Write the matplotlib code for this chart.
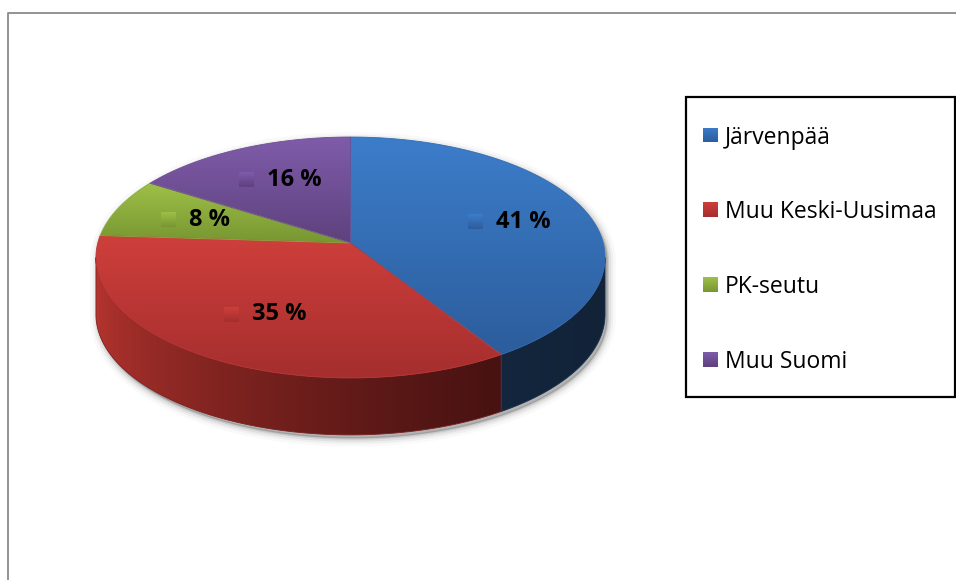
import numpy as np
import matplotlib
matplotlib.use("Agg")
import matplotlib.pyplot as plt
from matplotlib.patches import Polygon, Rectangle
from matplotlib.colors import to_rgb

# data
labels = ["Järvenpää", "Muu Keski-Uusimaa", "PK-seutu", "Muu Suomi"]
shares = [41, 35, 8, 16]

# colours per slice (top face gradient, side gradient)
top_light = ["#3c7dca", "#ce3f3b", "#9ec047", "#7f5caa"]
top_dark = ["#2c5d9c", "#a52e2e", "#779632", "#5e417e"]
side_light = ["#1d3d66", "#b8352f", "#6f8a2c", "#4c3468"]
side_dark = ["#122338", "#360d0d", "#3f4f18", "#2a1c3b"]

W, H = 956, 580
CX, CY = 350.5, 243.0      # pie apex in pixels
SX, SY = 252.7, 118.7      # radii
PERSP = 0.12               # perspective strength
DEPTH = 57                 # thickness of the pie


def project(theta, r=1.0):
    """theta clockwise from the far point of the pie."""
    u = r * np.sin(theta)
    v = r * np.cos(theta)
    w = 1 + PERSP * v
    return np.column_stack([CX + SX * u / w, CY - SY * v / w])


def gradient_fill(ax, verts, c0, c1, horizontal=False, extent=None,
                  zorder=2, gamma=1.0, edge=True):
    c0, c1 = np.array(to_rgb(c0)), np.array(to_rgb(c1))
    poly = Polygon(verts, closed=True, fc="none",
                   ec=tuple((c0 + c1) / 2) if edge else "none", lw=0.6,
                   zorder=zorder + 0.1)
    ax.add_patch(poly)
    if extent is None:
        x0, y0 = verts.min(axis=0)
        x1, y1 = verts.max(axis=0)
    else:
        x0, y0, x1, y1 = extent
    t = np.linspace(0, 1, 256) ** gamma
    cols = (1 - t)[:, None] * c0 + t[:, None] * c1
    img = cols[None, :, :] if horizontal else cols[:, None, :]
    im = ax.imshow(img, extent=(x0, x1, y1, y0), origin="upper",
                   aspect="auto", interpolation="bilinear", zorder=zorder)
    im.set_clip_path(poly)
    return poly


fig = plt.figure(figsize=(W / 100, H / 100), dpi=100)
ax = fig.add_axes([0, 0, 1, 1])
ax.set_axis_off()

# chart frame
ax.plot([8, 8, W], [H, 13, 13], color="#8a8a8a", lw=1.3, zorder=1)

fracs = np.array(shares, dtype=float) / sum(shares)
bounds = np.concatenate([[0], np.cumsum(fracs)]) * 2 * np.pi

th_r = np.arccos(-PERSP)          # right extreme of the rim
th_l = 2 * np.pi - th_r           # left extreme

# soft shadow of the silhouette
top_arc = project(np.linspace(th_l, 2 * np.pi + th_r, 300))
bot_arc = project(np.linspace(th_r, th_l, 300)) + [0, DEPTH]
sil = np.vstack([top_arc, bot_arc])
for lw, a in [(12, 0.025), (8, 0.04), (5, 0.06), (2, 0.1)]:
    ax.add_patch(Polygon(sil + [2.5, 3.5], closed=True, fc="none",
                         ec=(0, 0, 0, a), lw=lw, zorder=1.5))
ax.add_patch(Polygon(sil + [2.5, 3.5], closed=True, fc=(0, 0, 0, 0.2),
                     ec="none", zorder=1.5))

xmin, xmax = top_arc[:, 0].min(), top_arc[:, 0].max()

# sides (front half only)
for i in range(len(shares)):
    lo, hi = max(bounds[i], th_r), min(bounds[i + 1], th_l)
    if lo >= hi:
        continue
    rim = project(np.linspace(lo, hi, 150))
    verts = np.vstack([rim, (rim + [0, DEPTH])[::-1]])
    gradient_fill(ax, verts, side_light[i], side_dark[i], horizontal=True,
                  extent=(xmin, 0, xmax, 600), zorder=2, gamma=0.6)

# top faces
for i in range(len(shares)):
    rim = project(np.linspace(bounds[i], bounds[i + 1], 200))
    verts = np.vstack([[CX, CY], rim])
    gradient_fill(ax, verts, top_light[i], top_dark[i], zorder=3)

# data labels with little keys
for i, s in enumerate(shares):
    mid = (bounds[i] + bounds[i + 1]) / 2
    lx, ly = project(mid, 0.65)[0]
    key = np.array([[lx - 37, ly - 7.5], [lx - 22, ly - 7.5],
                    [lx - 22, ly + 7.5], [lx - 37, ly + 7.5]])
    gradient_fill(ax, key, top_light[i], top_dark[i], zorder=4, edge=False)
    ax.text(lx - 9, ly, f"{s} %", ha="left", va="center", fontsize=17,
            fontweight="bold", family="Open Sans", color="black", zorder=5)

# legend
ax.add_patch(Rectangle((686, 97), 269, 300, fc="white", ec="black",
                       lw=1.6, zorder=4))
for i, lab in enumerate(labels):
    yc = 135 + i * 74.7
    key = np.array([[703, yc - 7.5], [718, yc - 7.5],
                    [718, yc + 7.5], [703, yc + 7.5]])
    gradient_fill(ax, key, top_light[i], top_dark[i], zorder=5, edge=False)
    ax.text(725, yc + 8.5, lab, ha="left", va="baseline", fontsize=16.5,
            family="Open Sans", color="black", zorder=5)

ax.set_xlim(0, W)
ax.set_ylim(H, 0)
fig.savefig("out.png", dpi=100, facecolor="white")
